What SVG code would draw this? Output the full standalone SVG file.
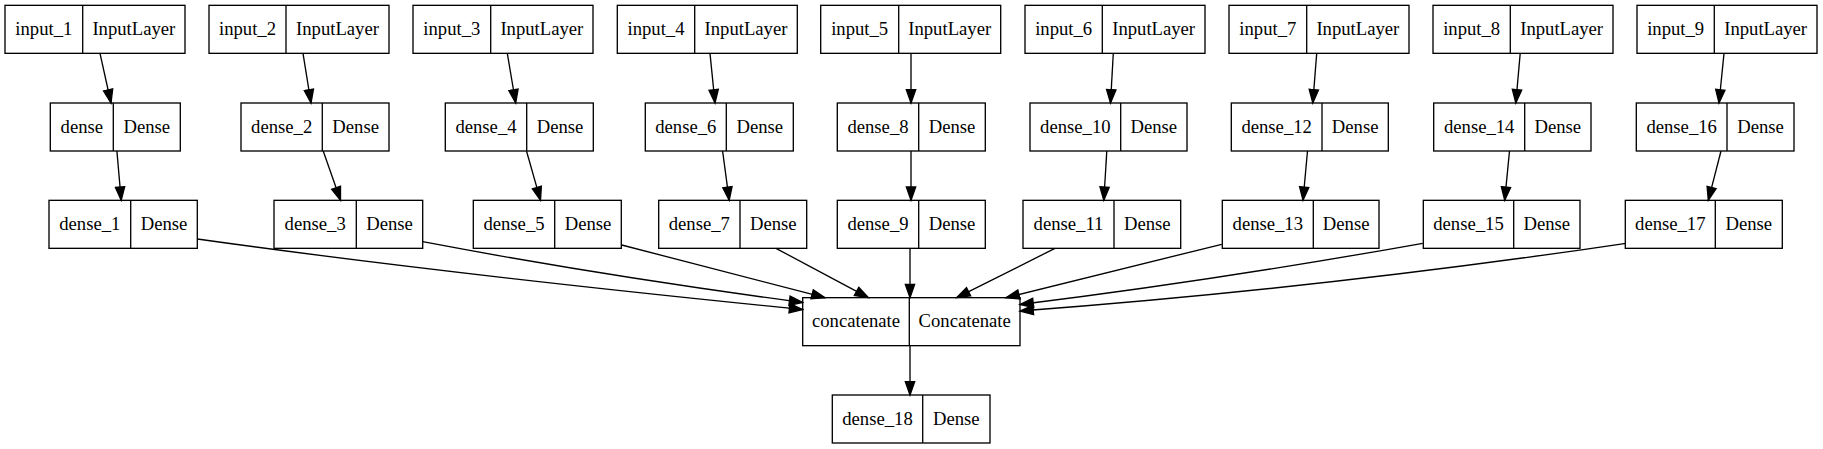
<svg xmlns="http://www.w3.org/2000/svg" width="1823" height="449" viewBox="0 0 1823 449">
<style>
.node rect{fill:none;stroke:#000;stroke-width:1.33}
.node line{stroke:#000;stroke-width:1.33}
.node text{font-family:'Liberation Serif','DejaVu Serif',serif;font-size:18.67px;text-anchor:middle;fill:#000}
.edges path{fill:none;stroke:#000;stroke-width:1.33;marker-end:url(#arr)}
</style>
<defs>
<marker id="arr" markerUnits="userSpaceOnUse" markerWidth="16" markerHeight="12" viewBox="-1 -6 16 12" refX="13.33" refY="0" orient="auto">
<path d="M0,-4.67 L13.33,0 L0,4.67 Z" fill="#000" stroke="#000" stroke-width="1.33"/>
</marker>
</defs>
<rect x="0" y="0" width="1823" height="449" fill="#fff"/>
<g font-family="Liberation Serif, DejaVu Serif, serif">
<g id="input_1" class="node"><rect x="5" y="5.33" width="180" height="48"/><line x1="82.7" y1="5.33" x2="82.7" y2="53.33"/><text x="43.85" y="34.93">input_1</text><text x="133.85" y="34.93">InputLayer</text></g>
<g id="input_2" class="node"><rect x="209" y="5.33" width="180" height="48"/><line x1="286" y1="5.33" x2="286" y2="53.33"/><text x="247.5" y="34.93">input_2</text><text x="337.5" y="34.93">InputLayer</text></g>
<g id="input_3" class="node"><rect x="413" y="5.33" width="180" height="48"/><line x1="490.7" y1="5.33" x2="490.7" y2="53.33"/><text x="451.85" y="34.93">input_3</text><text x="541.85" y="34.93">InputLayer</text></g>
<g id="input_4" class="node"><rect x="617.3" y="5.33" width="180" height="48"/><line x1="694.7" y1="5.33" x2="694.7" y2="53.33"/><text x="656" y="34.93">input_4</text><text x="746" y="34.93">InputLayer</text></g>
<g id="input_5" class="node"><rect x="820.7" y="5.33" width="180" height="48"/><line x1="898.7" y1="5.33" x2="898.7" y2="53.33"/><text x="859.7" y="34.93">input_5</text><text x="949.7" y="34.93">InputLayer</text></g>
<g id="input_6" class="node"><rect x="1025" y="5.33" width="180" height="48"/><line x1="1102.3" y1="5.33" x2="1102.3" y2="53.33"/><text x="1063.65" y="34.93">input_6</text><text x="1153.65" y="34.93">InputLayer</text></g>
<g id="input_7" class="node"><rect x="1229" y="5.33" width="180" height="48"/><line x1="1306.7" y1="5.33" x2="1306.7" y2="53.33"/><text x="1267.85" y="34.93">input_7</text><text x="1357.85" y="34.93">InputLayer</text></g>
<g id="input_8" class="node"><rect x="1433" y="5.33" width="180" height="48"/><line x1="1510.3" y1="5.33" x2="1510.3" y2="53.33"/><text x="1471.65" y="34.93">input_8</text><text x="1561.65" y="34.93">InputLayer</text></g>
<g id="input_9" class="node"><rect x="1637" y="5.33" width="180" height="48"/><line x1="1714.3" y1="5.33" x2="1714.3" y2="53.33"/><text x="1675.65" y="34.93">input_9</text><text x="1765.65" y="34.93">InputLayer</text></g>

<g id="dense" class="node"><rect x="50.3" y="103" width="130" height="48"/><line x1="113.3" y1="103" x2="113.3" y2="151"/><text x="81.8" y="132.6">dense</text><text x="146.8" y="132.6">Dense</text></g>
<g id="dense_2" class="node"><rect x="241" y="103" width="148" height="48"/><line x1="322.3" y1="103" x2="322.3" y2="151"/><text x="281.65" y="132.6">dense_2</text><text x="355.65" y="132.6">Dense</text></g>
<g id="dense_4" class="node"><rect x="445.3" y="103" width="148" height="48"/><line x1="526.7" y1="103" x2="526.7" y2="151"/><text x="486" y="132.6">dense_4</text><text x="560" y="132.6">Dense</text></g>
<g id="dense_6" class="node"><rect x="645.3" y="103" width="148" height="48"/><line x1="726.3" y1="103" x2="726.3" y2="151"/><text x="685.8" y="132.6">dense_6</text><text x="759.8" y="132.6">Dense</text></g>
<g id="dense_8" class="node"><rect x="837.3" y="103" width="148" height="48"/><line x1="918.7" y1="103" x2="918.7" y2="151"/><text x="878" y="132.6">dense_8</text><text x="952" y="132.6">Dense</text></g>
<g id="dense_10" class="node"><rect x="1030" y="103" width="157" height="48"/><line x1="1120.7" y1="103" x2="1120.7" y2="151"/><text x="1075.35" y="132.6">dense_10</text><text x="1153.85" y="132.6">Dense</text></g>
<g id="dense_12" class="node"><rect x="1231.3" y="103" width="157" height="48"/><line x1="1322" y1="103" x2="1322" y2="151"/><text x="1276.65" y="132.6">dense_12</text><text x="1355.15" y="132.6">Dense</text></g>
<g id="dense_14" class="node"><rect x="1433.7" y="103" width="157.3" height="48"/><line x1="1524.7" y1="103" x2="1524.7" y2="151"/><text x="1479.2" y="132.6">dense_14</text><text x="1557.85" y="132.6">Dense</text></g>
<g id="dense_16" class="node"><rect x="1636.3" y="103" width="157.7" height="48"/><line x1="1727" y1="103" x2="1727" y2="151"/><text x="1681.65" y="132.6">dense_16</text><text x="1760.5" y="132.6">Dense</text></g>

<g id="dense_1" class="node"><rect x="49" y="200.33" width="148.3" height="48"/><line x1="130.7" y1="200.33" x2="130.7" y2="248.33"/><text x="89.85" y="229.93">dense_1</text><text x="164" y="229.93">Dense</text></g>
<g id="dense_3" class="node"><rect x="274" y="200.33" width="148.7" height="48"/><line x1="356.3" y1="200.33" x2="356.3" y2="248.33"/><text x="315.15" y="229.93">dense_3</text><text x="389.5" y="229.93">Dense</text></g>
<g id="dense_5" class="node"><rect x="473.3" y="200.33" width="148" height="48"/><line x1="554.7" y1="200.33" x2="554.7" y2="248.33"/><text x="514" y="229.93">dense_5</text><text x="588" y="229.93">Dense</text></g>
<g id="dense_7" class="node"><rect x="658.7" y="200.33" width="148" height="48"/><line x1="740" y1="200.33" x2="740" y2="248.33"/><text x="699.35" y="229.93">dense_7</text><text x="773.35" y="229.93">Dense</text></g>
<g id="dense_9" class="node"><rect x="837.3" y="200.33" width="148" height="48"/><line x1="918.7" y1="200.33" x2="918.7" y2="248.33"/><text x="878" y="229.93">dense_9</text><text x="952" y="229.93">Dense</text></g>
<g id="dense_11" class="node"><rect x="1023" y="200.33" width="157.7" height="48"/><line x1="1114" y1="200.33" x2="1114" y2="248.33"/><text x="1068.5" y="229.93">dense_11</text><text x="1147.35" y="229.93">Dense</text></g>
<g id="dense_13" class="node"><rect x="1222.3" y="200.33" width="156.7" height="48"/><line x1="1313.3" y1="200.33" x2="1313.3" y2="248.33"/><text x="1267.8" y="229.93">dense_13</text><text x="1346.15" y="229.93">Dense</text></g>
<g id="dense_15" class="node"><rect x="1423.3" y="200.33" width="156.7" height="48"/><line x1="1513.7" y1="200.33" x2="1513.7" y2="248.33"/><text x="1468.5" y="229.93">dense_15</text><text x="1546.85" y="229.93">Dense</text></g>
<g id="dense_17" class="node"><rect x="1625.3" y="200.33" width="157" height="48"/><line x1="1715.3" y1="200.33" x2="1715.3" y2="248.33"/><text x="1670.3" y="229.93">dense_17</text><text x="1748.8" y="229.93">Dense</text></g>

<g id="concatenate" class="node"><rect x="802.7" y="297.67" width="217.3" height="48"/><line x1="909.3" y1="297.67" x2="909.3" y2="345.67"/><text x="856" y="327.27">concatenate</text><text x="964.65" y="327.27">Concatenate</text></g>
<g id="dense_18" class="node"><rect x="832.3" y="395" width="157.7" height="48"/><line x1="922.7" y1="395" x2="922.7" y2="443"/><text x="877.5" y="424.6">dense_18</text><text x="956.35" y="424.6">Dense</text></g>
</g>
<g id="connectors" class="edges">
<path d="M100,53.33 L111,103"/>
<path d="M303,53.33 L311,103"/>
<path d="M507.3,53.33 L515.7,103"/>
<path d="M710,53.33 L715,103"/>
<path d="M911,53.33 L911,103"/>
<path d="M1113.3,53.33 L1110.5,103"/>
<path d="M1316.7,53.33 L1312.8,103"/>
<path d="M1520.2,53.33 L1515.8,103"/>
<path d="M1724,53.33 L1719,103"/>
<path d="M116.9,151 L121.2,200.33"/>
<path d="M323.2,151 L340.5,200.33"/>
<path d="M526.5,151 L540.5,200.33"/>
<path d="M722.6,151 L729.2,200.33"/>
<path d="M911,151 L911,200.33"/>
<path d="M1106.8,151 L1103.8,200.33"/>
<path d="M1307.5,151 L1303,200.33"/>
<path d="M1509.5,151 L1504.7,200.33"/>
<path d="M1721,151 L1708.3,200.33"/>
<path d="M197.3,239 C397,267 602.7,289.5 802.7,309.5"/>
<path d="M422.7,241.7 C552.7,266.4 672.7,285.1 802.7,302.5"/>
<path d="M621.7,245 L825,297.67"/>
<path d="M776,248.33 L868.3,297.67"/>
<path d="M910,248.33 L910,297.67"/>
<path d="M1055,248.33 L956.7,297.67"/>
<path d="M1221.7,244.3 L1006,297.67"/>
<path d="M1422.7,243.3 C1290,267 1170,286 1020,304.5"/>
<path d="M1626,243.3 C1426,273 1220,296 1020,311"/>
<path d="M910,345.67 L910,395"/>
</g>
</svg>
